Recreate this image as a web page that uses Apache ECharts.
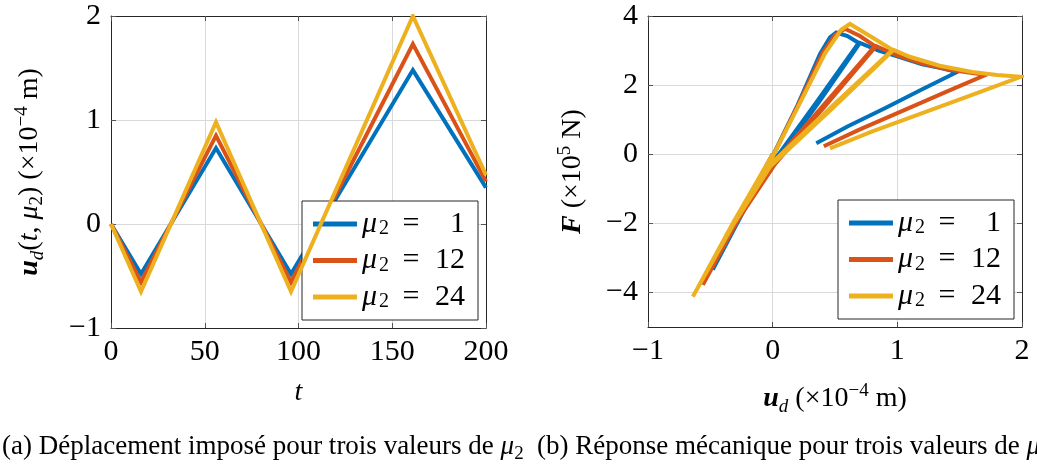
<!DOCTYPE html>
<html>
<head>
<meta charset="utf-8">
<script src="https://cdn.jsdelivr.net/npm/echarts@6/dist/echarts.min.js"></script>
<style>
html,body{margin:0;padding:0;background:#fff}
#chart{width:1037px;height:468px}
</style>
</head>
<body>
<div id="chart"></div>
<script>
// ---------- data ----------
const seriesNames = ['mu1', 'mu12', 'mu24'];
const legendNumbers = ['1', '12', '24'];
const colors = ['#0072BD', '#D95319', '#EDB120'];

// (a) imposed displacement u_d(t, mu2), x1e-4 m
const tValues = [0, 16, 56, 96, 161, 200];
const dispMu1 = [0, -0.48, 0.73, -0.48, 1.48, 0.35];
const dispMu12 = [0, -0.56, 0.85, -0.56, 1.73, 0.41];
const dispMu24 = [0, -0.65, 0.98, -0.65, 2.0, 0.47];

// (b) mechanical response [u_d (x1e-4 m), F (x1e5 N)]
const respMu1 = [[0,0],[-0.24,-1.62],[-0.48,-3.34],
  [-0.24,-1.62],[-0.02,-0.2],[0.2,1.42],[0.38,2.9],[0.46,3.38],[0.51,3.52],[0.6,3.42],[0.69,3.22],
  [0.35,1.5],[0,-0.24],[-0.24,-1.62],[-0.48,-3.34],
  [-0.23,-1.62],[0.02,-0.24],[0.37,1.5],[0.7,3.22],
  [0.85,3.0],[1.0,2.83],[1.2,2.6],[1.34,2.5],[1.48,2.38],
  [1.2,1.88],[0.9,1.33],[0.6,0.8],[0.35,0.32]];
const respMu12 = [[0,0],[-0.28,-1.85],[-0.56,-3.78],
  [-0.28,-1.85],[-0.02,-0.22],[0.2,1.4],[0.4,2.92],[0.5,3.45],[0.58,3.63],[0.7,3.42],[0.82,3.13],
  [0.41,1.43],[0,-0.28],[-0.28,-1.85],[-0.56,-3.78],
  [-0.27,-1.85],[0.02,-0.28],[0.43,1.43],[0.83,3.13],
  [1.0,2.86],[1.2,2.63],[1.4,2.46],[1.6,2.35],[1.71,2.3],
  [1.4,1.82],[1.0,1.19],[0.7,0.72],[0.41,0.23]];
const respMu24 = [[0,0],[-0.32,-2.0],[-0.64,-4.12],
  [-0.32,-2.0],[-0.03,-0.28],[0.2,1.35],[0.42,2.92],[0.55,3.6],[0.62,3.77],[0.8,3.38],[0.96,3.02],
  [0.46,1.33],[-0.04,-0.36],[-0.32,-2.0],[-0.64,-4.12],
  [-0.31,-2.0],[-0.02,-0.36],[0.48,1.33],[0.97,3.02],
  [1.1,2.82],[1.34,2.56],[1.6,2.38],[1.8,2.29],[1.99,2.24],
  [1.6,1.72],[1.2,1.19],[0.8,0.66],[0.46,0.17]];

const xTicksA = [0, 50, 100, 150, 200];
const yTicksA = [-1, 0, 1, 2];
const xTicksB = [-1, 0, 1, 2];
const yTicksB = [-4, -2, 0, 2, 4];

// ---------- styling ----------
const FONT = 'Liberation Serif';
const FS = 28;     // axis titles
const LFS = 30;    // tick labels and legend
const dark = '#262626';
const gridColor = '#d9d9d9';
const minus = v => String(v).replace('-', '\u2212');

function tok(o) {
  return Object.assign({fontFamily: FONT, color: '#000', fontWeight: 'normal', fontStyle: 'normal'}, o);
}
const rich = {
  n: tok({fontSize: FS, lineHeight: 34, verticalAlign: 'middle'}),
  i: tok({fontSize: FS, fontStyle: 'italic', lineHeight: 34, verticalAlign: 'middle'}),
  b: tok({fontSize: FS, fontStyle: 'italic', fontWeight: 'bold', lineHeight: 34, verticalAlign: 'middle'}),
  sub: tok({fontSize: 19, fontStyle: 'italic', lineHeight: 19, verticalAlign: 'bottom'}),
  subn: tok({fontSize: 19, lineHeight: 19, verticalAlign: 'bottom'}),
  sup: tok({fontSize: 19, lineHeight: 19, verticalAlign: 'top'})
};

function axisBase(extra) {
  return Object.assign({
    type: 'value',
    axisLine: {show: true, onZero: false, lineStyle: {color: dark, width: 1}},
    axisTick: {show: true, inside: true, length: 5, lineStyle: {color: '#555'}},
    splitLine: {show: false},
    axisLabel: {show: false}
  }, extra);
}
const labelStyle = {show: true, fontFamily: FONT, fontSize: LFS, color: '#000', formatter: minus};

const legendRich = {
  mu: tok({fontSize: LFS, fontStyle: 'italic', width: 17, lineHeight: 30, verticalAlign: 'middle'}),
  s: tok({fontSize: 20, width: 14, lineHeight: 20, verticalAlign: 'bottom'}),
  eq: tok({fontSize: LFS, width: 36, align: 'center', lineHeight: 30, verticalAlign: 'middle'}),
  num: tok({fontSize: LFS, width: 36, align: 'right', lineHeight: 30, verticalAlign: 'middle'})
};
function legendCfg(left, top) {
  return {
    data: seriesNames, orient: 'vertical', left: left, top: top,
    padding: [8, 13, 8, 11], itemGap: 6.5, itemWidth: 44, itemHeight: 5, icon: 'rect',
    backgroundColor: '#fff', borderColor: dark, borderWidth: 1, borderRadius: 0,
    formatter: name => '{mu|\u03bc}{s|2}{eq|=}{num|' + legendNumbers[seriesNames.indexOf(name)] + '}',
    textStyle: {fontFamily: FONT, fontSize: LFS, color: '#000', rich: legendRich}
  };
}

const dispData = [dispMu1, dispMu12, dispMu24];
const respData = [respMu1, respMu12, respMu24];
const series = [];
dispData.forEach((arr, k) => series.push({
  name: seriesNames[k], type: 'line', xAxisIndex: 0, yAxisIndex: 0,
  data: tValues.map((t, j) => [t, arr[j]]), showSymbol: false, symbol: 'none',
  lineStyle: {color: colors[k], width: 4, join: 'miter', miterLimit: 20}, itemStyle: {color: colors[k]}, z: 2 + k
}));
respData.forEach((arr, k) => series.push({
  name: seriesNames[k], type: 'line', xAxisIndex: 2, yAxisIndex: 2,
  data: arr, showSymbol: false, symbol: 'none',
  lineStyle: {color: colors[k], width: 4, join: 'miter', miterLimit: 6}, itemStyle: {color: colors[k]}, z: 2 + k
}));

const CFS = 27;
const captionRich = {
  n: tok({fontSize: CFS, lineHeight: 34, verticalAlign: 'middle'}),
  i: tok({fontSize: CFS, fontStyle: 'italic', lineHeight: 34, verticalAlign: 'middle'}),
  subn: tok({fontSize: 19, lineHeight: 19, verticalAlign: 'bottom'})
};

const option = {
  animation: false,
  backgroundColor: '#fff',
  textStyle: {fontFamily: FONT},
  grid: [
    {left: 111, top: 16, width: 375, height: 312},
    {left: 648, top: 16, width: 374, height: 311}
  ],
  xAxis: [
    axisBase({gridIndex: 0, position: 'bottom', min: xTicksA[0], max: xTicksA[xTicksA.length - 1], interval: 50,
      splitLine: {show: true, lineStyle: {color: gridColor}},
      axisLabel: Object.assign({margin: 9}, labelStyle),
      name: '{i|t}', nameLocation: 'middle', nameGap: 48, nameTextStyle: {fontFamily: FONT, rich: rich}}),
    axisBase({gridIndex: 0, position: 'top', min: 0, max: 200, interval: 50}),
    axisBase({gridIndex: 1, position: 'bottom', min: xTicksB[0], max: xTicksB[xTicksB.length - 1], interval: 1,
      splitLine: {show: true, lineStyle: {color: gridColor}},
      axisLabel: Object.assign({margin: 9}, labelStyle),
      name: '{b|u}{sub|d}{n| (\u00d710}{sup|\u22124}{n| m)}', nameLocation: 'middle', nameGap: 55,
      nameTextStyle: {fontFamily: FONT, rich: rich}}),
    axisBase({gridIndex: 1, position: 'top', min: -1, max: 2, interval: 1})
  ],
  yAxis: [
    axisBase({gridIndex: 0, position: 'left', min: yTicksA[0], max: yTicksA[yTicksA.length - 1], interval: 1,
      splitLine: {show: true, lineStyle: {color: gridColor}},
      axisLabel: Object.assign({margin: 10}, labelStyle),
      name: '{b|u}{sub|d}{n|(}{i|t}{n|, }{i|\u03bc}{subn|2}{n|) (\u00d710}{sup|\u22124}{n| m)}',
      nameLocation: 'middle', nameRotate: 90, nameGap: 64, nameTextStyle: {fontFamily: FONT, rich: rich}}),
    axisBase({gridIndex: 0, position: 'right', min: -1, max: 2, interval: 1}),
    axisBase({gridIndex: 1, position: 'left', min: -5, max: 4, interval: 1,
      axisTick: {show: true, inside: true, length: 5, lineStyle: {color: '#555'}, customValues: yTicksB},
      splitLine: {show: true, lineStyle: {color: gridColor}},
      axisLabel: Object.assign({margin: 10, customValues: yTicksB}, labelStyle),
      name: '{b|F}{n| (\u00d710}{sup|5}{n| N)}',
      nameLocation: 'middle', nameRotate: 90, nameGap: 58, nameTextStyle: {fontFamily: FONT, rich: rich}}),
    axisBase({gridIndex: 1, position: 'right', min: -5, max: 4, interval: 1,
      axisTick: {show: true, inside: true, length: 5, lineStyle: {color: '#555'}, customValues: yTicksB}})
  ],
  legend: [legendCfg(302, 201), legendCfg(838, 200)],
  title: [
    {text: '{n|(a) D\u00e9placement impos\u00e9 pour trois valeurs de }{i|\u03bc}{subn|2}', left: 2, top: 430, padding: 0,
      textStyle: {fontFamily: FONT, fontWeight: 'normal', fontSize: CFS, color: '#000', rich: captionRich}},
    {text: '{n|(b) R\u00e9ponse m\u00e9canique pour trois valeurs de }{i|\u03bc}{subn|2}', left: 537, top: 430, padding: 0,
      textStyle: {fontFamily: FONT, fontWeight: 'normal', fontSize: CFS, color: '#000', rich: captionRich}}
  ],
  series: series
};

const chart = echarts.init(document.getElementById('chart'), null, {renderer: 'canvas'});
chart.setOption(option);
</script>
</body>
</html>
